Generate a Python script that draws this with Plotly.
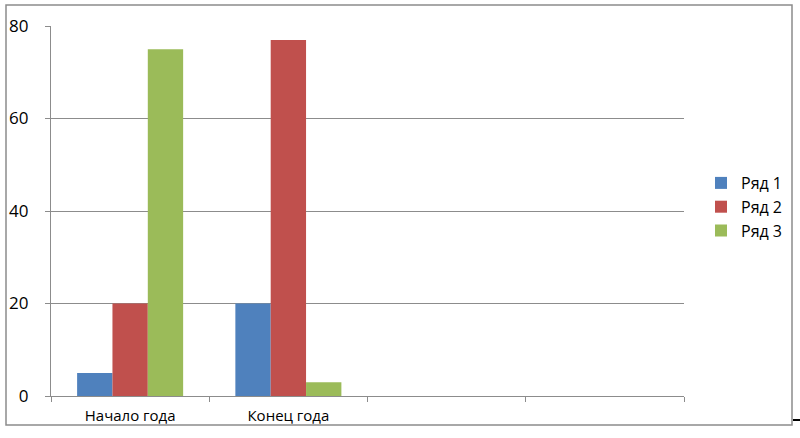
import plotly.graph_objects as go

categories = ["Начало года", "Конец года", " ", "  "]
series_names = ["Ряд 1", "Ряд 2", "Ряд 3"]
ryad1 = [5, 20, None, None]
ryad2 = [20, 77, None, None]
ryad3 = [75, 3, None, None]
y_ticks = [0, 20, 40, 60, 80]

colors = ["#4F81BD", "#C0504D", "#9BBB59"]
FONT = "Open Sans, Noto Sans, sans-serif"

fig = go.Figure()
for name, vals, c in zip(series_names, [ryad1, ryad2, ryad3], colors):
    fig.add_trace(go.Bar(x=categories, y=vals, name=name, marker_color=c,
                         marker_line_width=0))

L, R, T, B = 51, 684, 26, 396
W, H = 800, 438
pw, ph = R - L, B - T

def px(x):
    return (x - L) / pw

def py(y):
    return (B - y) / ph

fig.update_layout(
    width=W, height=H,
    margin=dict(l=L, r=W - R, t=T, b=H - B, pad=0, autoexpand=False),
    paper_bgcolor="white", plot_bgcolor="white",
    barmode="group", bargap=0.33, bargroupgap=0,
    font=dict(family=FONT, size=15, color="black"),
    legend=dict(x=px(701), xanchor="left", y=py(207), yanchor="middle",
                font=dict(size=16, family=FONT), tracegroupgap=0,
                bgcolor="rgba(0,0,0,0)"),
    xaxis=dict(type="category", range=[-0.5, 3.5], showgrid=False,
               automargin=False,
               showline=True, linecolor="#8c8c8c", linewidth=1.3,
               ticks="outside", ticklen=5, tickcolor="#8c8c8c",
               tickson="boundaries", ticklabelstandoff=6,
               tickfont=dict(size=15, family=FONT)),
    yaxis=dict(range=[0, 80], tickvals=y_ticks, showgrid=True,
               automargin=False,
               gridcolor="#8c8c8c", gridwidth=1.3, showline=True,
               linecolor="#8c8c8c", linewidth=1.3, ticks="outside",
               ticklen=5, tickcolor="#8c8c8c", zeroline=False,
               tickfont=dict(size=17, family=FONT), ticklabelstandoff=13),
    shapes=[
        dict(type="rect", xref="paper", yref="paper",
             x0=px(6), x1=px(792), y0=py(425), y1=py(5),
             line=dict(color="#8c8c8c", width=1.5), fillcolor="rgba(0,0,0,0)",
             layer="below"),
        dict(type="line", xref="paper", yref="paper",
             x0=px(793), x1=px(800), y0=py(420), y1=py(420),
             line=dict(color="black", width=2)),
    ],
)

fig.write_html(
    "out.html",
    config={"displayModeBar": False},
    post_script="document.body.style.margin='0';document.body.style.overflow='hidden';",
)
